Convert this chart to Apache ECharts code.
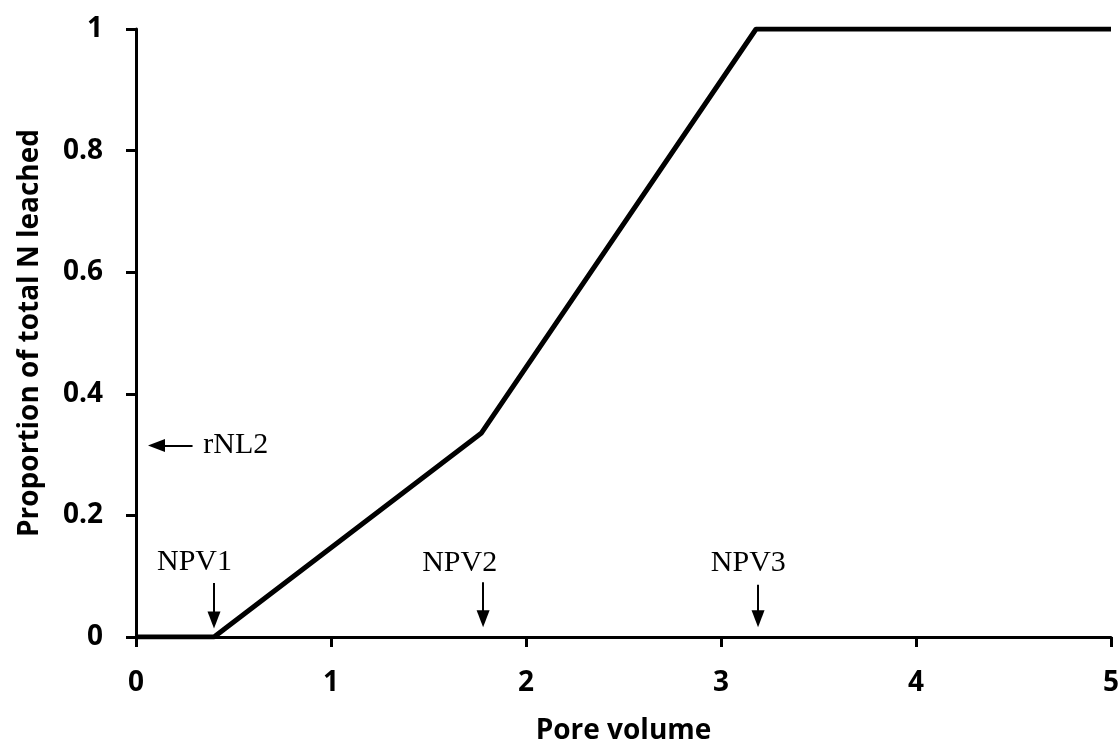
<!DOCTYPE html>
<html>
<head>
<meta charset="utf-8">
<script src="https://cdn.jsdelivr.net/npm/echarts@6/dist/echarts.min.js"></script>
<style>html,body{margin:0;padding:0;background:#fff}#c{width:1120px;height:746px}</style>
</head>
<body>
<div id="c"></div>
<script>
// Curve: pore volume vs proportion of total N leached
const poreVolume = [0, 0.4, 1.77, 3.18, 5];
const proportion = [0, 0, 0.335, 1, 1];

// Annotation labels and their anchor positions (data coords)
const annoText = ['NPV1', 'NPV2', 'NPV3'];
const annoTextX = [0.30, 1.66, 3.14];
const annoTextY = [0.123, 0.122, 0.122];
const arrowX = [0.4, 1.78, 3.19];
const arrowTop = [0.089, 0.09, 0.086];
const arrowBottom = [0.028, 0.030, 0.030];

const rnlText = 'rNL2';
const rnlY = 0.315;
const rnlArrowFrom = 0.29;
const rnlArrowTo = 0.105;
const rnlTextX = 0.345;

const xTicks = [0, 1, 2, 3, 4, 5];
const yTicks = [0, 0.2, 0.4, 0.6, 0.8, 1];

const chart = echarts.init(document.getElementById('c'));
const labelFont = { fontFamily: 'Open Sans', fontWeight: 'bold', fontSize: 28, color: '#000' };
const titleFont = { fontFamily: 'Open Sans', fontWeight: 'bold', fontSize: 28, color: '#000' };
const serif = 'Liberation Serif';

const markData = annoText.map((t, i) => [
  { coord: [arrowX[i], arrowTop[i]] },
  { coord: [arrowX[i], arrowBottom[i]] }
]);
markData.push([{ coord: [rnlArrowFrom, rnlY] }, { coord: [rnlArrowTo, rnlY] }]);

const textLabel = {
  show: true, formatter: p => p.name,
  fontFamily: serif, fontSize: 30, color: '#000', opacity: 1, textBorderWidth: 0
};

chart.setOption({
  animation: false,
  grid: { left: 136, right: 9, top: 29, bottom: 109, containLabel: false, outerBoundsMode: 'none' },
  xAxis: {
    type: 'value', min: 0, max: 5, interval: 1,
    name: 'Pore volume', nameLocation: 'middle', nameGap: 80,
    nameTextStyle: titleFont,
    axisLine: { show: true, lineStyle: { color: '#000', width: 3 } },
    axisTick: { show: true, inside: false, length: 10, lineStyle: { color: '#000', width: 3 } },
    axisLabel: Object.assign({ margin: 32, formatter: v => String(v) }, labelFont),
    splitLine: { show: false }
  },
  yAxis: {
    type: 'value', min: 0, max: 1, interval: 0.2,
    name: 'Proportion of total N leached', nameLocation: 'middle', nameGap: 92,
    nameTextStyle: titleFont,
    axisLine: { show: true, lineStyle: { color: '#000', width: 3 } },
    axisTick: { show: true, inside: false, length: 10, lineStyle: { color: '#000', width: 3 } },
    axisLabel: Object.assign({ margin: 33, formatter: v => String(Math.round(v * 10) / 10) }, labelFont),
    splitLine: { show: false }
  },
  series: [
    {
      type: 'line',
      data: poreVolume.map((x, i) => [x, proportion[i]]),
      symbol: 'none',
      lineStyle: { color: '#000', width: 5 },
      z: 3,
      markLine: {
        silent: true,
        symbol: ['none', 'triangle'],
        symbolSize: [13, 17],
        label: { show: false },
        lineStyle: { color: '#000', width: 2, type: 'solid' },
        data: markData,
        animation: false
      }
    },
    {
      type: 'scatter',
      symbolSize: 0,
      itemStyle: { opacity: 1 },
      data: annoText.map((t, i) => ({ value: [annoTextX[i], annoTextY[i]], name: t })),
      label: Object.assign({ position: 'inside' }, textLabel)
    },
    {
      type: 'scatter',
      symbolSize: 0,
      itemStyle: { opacity: 1 },
      data: [{ value: [rnlTextX, rnlY], name: rnlText }],
      label: Object.assign({ position: 'right', distance: 0 }, textLabel)
    }
  ]
});
</script>
</body>
</html>
